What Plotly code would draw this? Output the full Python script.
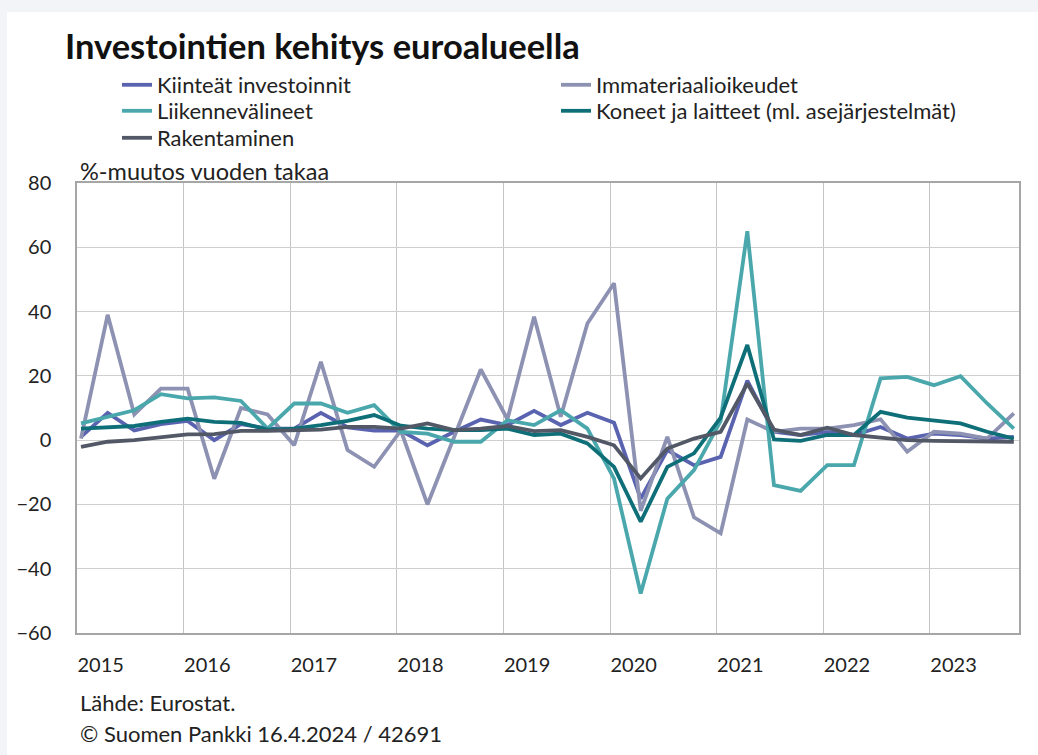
import plotly.graph_objects as go

# ---- data (quarterly, 2015Q1 .. 2023Q4), % change y/y ----
years = list(range(2015, 2024))
quarters = [f"{y}Q{q}" for y in years for q in range(1, 5)]

kiinteat = [1, 8.5, 3, 5, 6, 0, 5, 3.6, 3.6, 8.5, 4, 3, 3, -1.6, 2.6, 6.4,
            4.7, 9.1, 4.7, 8.5, 5.4, -18.2, -3.1, -7.8, -5.2, 18.5, 2.6, 1.6,
            2.6, 1.6, 4.1, 0.5, 2, 1.6, 0.5, 1]
immateriaali = [0.5, 39, 8, 16, 16, -12, 10, 8, -1.6, 24.4, -3.1, -8.3, 3, -20, 1, 22,
                6.5, 38.4, 7.3, 36.3, 48.8, -22, 1, -24, -29, 6.4, 2.6, 3.6,
                3.6, 4.7, 6.5, -3.6, 2.6, 2, 0.5, 8.3]
liikenne = [5.2, 7.3, 9.3, 14.3, 13, 13.3, 12.2, 3.6, 11.4, 11.4, 8.5, 10.9, 2.6, 2, -0.5, -0.5,
            6.2, 4.7, 9.3, 3.6, -12, -47.7, -18.2, -9.3, 6, 65, -14, -15.8,
            -7.8, -7.8, 19.2, 19.7, 17.1, 19.9, 11.4, 3.6]
koneet = [3.6, 4.1, 4.4, 5.7, 6.7, 5.7, 5.4, 3.3, 3.6, 4.7, 6, 7.8, 4.5, 3.6, 3.1, 3.1,
          3.6, 1.6, 2, -1, -8.3, -25.4, -8.3, -4.1, 7, 29.6, 0.2, -0.2,
          1.6, 1.6, 8.8, 7, 6, 5.2, 2.6, 0.5]
rakentaminen = [-2.1, -0.5, 0, 1, 1.8, 1.9, 2.9, 2.9, 3.1, 3.3, 4.1, 4.1, 3.6, 5.2, 3.1, 3.6,
                4.4, 2.8, 3.1, 1, -1.6, -11.9, -2.6, 0.5, 2.6, 17.6, 3.3, 1.6,
                3.9, 1.6, 0.8, 0, -0.2, -0.3, -0.3, -0.5]

series_names = ["Kiinteät investoinnit", "Immateriaalioikeudet", "Liikennevälineet",
                "Koneet ja laitteet (ml. asejärjestelmät)", "Rakentaminen"]
series_values = [kiinteat, immateriaali, liikenne, koneet, rakentaminen]
series_colors = ["#5a63b0", "#8d91b2", "#4aa8ad", "#0f6f79", "#525866"]
series_legend = ["legend", "legend", "legend2", "legend2", "legend3"]

year_labels = [str(y) for y in years]

title_text = "Investointien kehitys euroalueella"
unit_text = "%-muutos vuoden takaa"
source_text = "Lähde: Eurostat."
copyright_text = "© Suomen Pankki 16.4.2024 / 42691"


def q_to_x(label):
    y, q = label.split("Q")
    return int(y) + (int(q) - 1) * 0.25 + 0.0375


xs = [q_to_x(q) for q in quarters]

FONT = "Lato"
W, H = 1038, 755
L, R, T, B = 77, 19, 183, 122

fig = go.Figure()
for name, vals, col, lg in zip(series_names, series_values, series_colors, series_legend):
    fig.add_trace(go.Scatter(x=xs, y=vals, name=name, mode="lines", legend=lg,
                             line=dict(color=col, width=3.8)))


def px_x(p):
    return (p - L) / (W - L - R)


def px_y(p):
    return (H - B - p) / (H - T - B)


shapes = [
    dict(type="rect", xref="paper", yref="paper", x0=px_x(0), x1=px_x(W), y0=px_y(12), y1=px_y(0),
         fillcolor="#f3f4f8", line=dict(width=0), layer="below"),
    dict(type="rect", xref="paper", yref="paper", x0=px_x(0), x1=px_x(7), y0=px_y(H), y1=px_y(0),
         fillcolor="#f3f4f8", line=dict(width=0), layer="below"),
]

annotations = [
    dict(text=f"<b>{title_text}</b>", xref="paper", yref="paper", x=px_x(63), y=px_y(46),
         xanchor="left", yanchor="middle", showarrow=False,
         font=dict(family=FONT, size=34.5, color="#111111")),
    dict(text=unit_text, xref="paper", yref="paper", x=px_x(78), y=px_y(171),
         xanchor="left", yanchor="middle", showarrow=False,
         font=dict(family=FONT, size=23.5, color="#222222")),
    dict(text=source_text, xref="paper", yref="paper", x=px_x(78), y=px_y(702),
         xanchor="left", yanchor="middle", showarrow=False,
         font=dict(family=FONT, size=22, color="#222222")),
    dict(text=copyright_text, xref="paper", yref="paper", x=px_x(78), y=px_y(733),
         xanchor="left", yanchor="middle", showarrow=False,
         font=dict(family=FONT, size=22, color="#222222")),
]


def legend_row(ypx):
    return dict(orientation="h", xref="paper", yref="paper",
                x=px_x(117), y=px_y(ypx), xanchor="left", yanchor="middle",
                entrywidth=394, entrywidthmode="pixels", itemwidth=30,
                font=dict(family=FONT, size=22, color="#222222"),
                bgcolor="rgba(0,0,0,0)", borderwidth=0)


fig.update_layout(
    width=W, height=H,
    margin=dict(l=L, r=R, t=T, b=B),
    paper_bgcolor="white", plot_bgcolor="white",
    font=dict(family=FONT, size=20, color="#222222"),
    showlegend=True,
    legend=legend_row(85),
    legend2=legend_row(111),
    legend3=legend_row(138),
    shapes=shapes,
    annotations=annotations,
    xaxis=dict(range=[2015.0, 2023.836], tickmode="array",
               tickvals=[y + 0.222 for y in years], ticktext=year_labels,
               showgrid=False, ticks="", ticklabelstandoff=13,
               showline=True, linecolor="#a6a6a6", linewidth=1.5, mirror=True,
               zeroline=False,
               minor=dict(tickmode="array", tickvals=years[1:], showgrid=True,
                          gridcolor="#c4c4c4", gridwidth=1.2, ticks=""),
               tickfont=dict(family=FONT, size=20, color="#222222")),
    yaxis=dict(range=[-60, 80], tick0=-60, dtick=20, showgrid=True,
               gridcolor="#cfcfcf", gridwidth=1.2, zeroline=False,
               showline=True, linecolor="#a6a6a6", linewidth=1.5, mirror=True,
               ticks="", ticklabelstandoff=20,
               tickfont=dict(family=FONT, size=20, color="#222222")),
)

fig.write_html("out.html", config={"displayModeBar": False},
               post_script="document.body.style.margin='0';")
